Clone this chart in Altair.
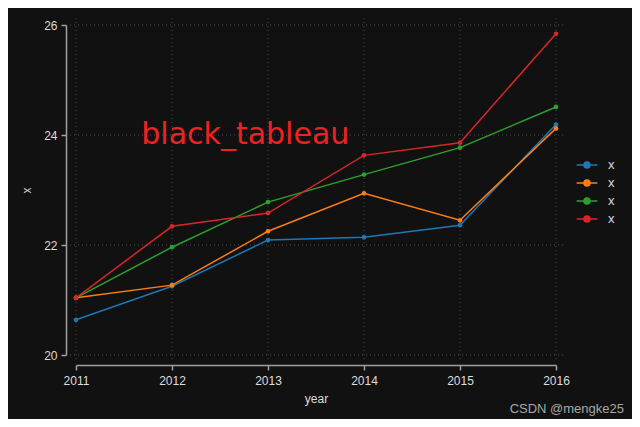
import altair as alt
import pandas as pd

years = [2011, 2012, 2013, 2014, 2015, 2016]
series_names = ["x1", "x2", "x3", "x4"]
s1 = [20.64, 21.25, 22.09, 22.14, 22.36, 24.19]
s2 = [21.04, 21.27, 22.25, 22.94, 22.45, 24.12]
s3 = [21.04, 21.96, 22.78, 23.28, 23.77, 24.51]
s4 = [21.04, 22.34, 22.58, 23.63, 23.86, 25.84]
colors = ["#1f77b4", "#ff7f0e", "#2ca02c", "#d62728"]
y_ticks = [20, 22, 24, 26]
annot_text = ["black_tableau"]
annot_x = [2011.68]
annot_y = [24.0]
watermark = ["CSDN @mengke25"]

rows = []
for name, vals in zip(series_names, [s1, s2, s3, s4]):
    for yr, v in zip(years, vals):
        rows.append({"year": yr, "value": v, "series": name})
df = pd.DataFrame(rows)

W, H = 480, 330
LABEL_FONT = "Liberation Sans"

xscale = alt.Scale(domain=[2011, 2016], nice=False, zero=False)
yscale = alt.Scale(domain=[20, 26], nice=False, zero=False)
xaxis = alt.Axis(values=years, format="d", offset=10, grid=False, labelFlush=False,
                 tickSize=5, labelPadding=5, titlePadding=7)
yaxis = alt.Axis(values=y_ticks, offset=10, grid=False, labelFlush=False,
                 tickSize=5, labelPadding=4, titlePadding=10)

hgrid = alt.Chart(pd.DataFrame({"v": y_ticks})).mark_rule(
    color="#4a4a4a", strokeDash=[1, 3], strokeWidth=1
).encode(
    y=alt.Y("v:Q", scale=yscale, axis=yaxis, title="x"),
    x=alt.value(-6), x2=alt.value(W + 9),
)
vgrid = alt.Chart(pd.DataFrame({"yr": years})).mark_rule(
    color="#4a4a4a", strokeDash=[1, 3], strokeWidth=1
).encode(
    x=alt.X("yr:Q", scale=xscale, axis=xaxis, title="year"),
    y=alt.value(-7), y2=alt.value(H + 5),
)

base = alt.Chart(df).encode(
    x=alt.X("year:Q", scale=xscale, title="year", axis=xaxis),
    y=alt.Y("value:Q", scale=yscale, title="x", axis=yaxis),
    color=alt.Color("series:N",
                    scale=alt.Scale(domain=series_names, range=colors),
                    legend=alt.Legend(
                        title=None, orient="none", legendX=502, legendY=131,
                        labelExpr="'x'",
                        symbolType="M-1.3,0H1.3M-0.38,0A0.38,0.38,0,1,1,0.38,0A0.38,0.38,0,1,1,-0.38,0",
                        symbolSize=256, symbolStrokeWidth=1.5,
                        rowPadding=2, labelOffset=12, padding=0,
                        labelFont=LABEL_FONT, labelFontSize=13, labelColor="#dddddd",
                    )),
)
lines = base.mark_line(strokeWidth=1.5)
points = base.mark_point(filled=True, size=22, opacity=1)

annot = alt.Chart(pd.DataFrame({"t": annot_text, "ax": annot_x, "ay": annot_y})).mark_text(
    align="left", baseline="middle", font="DejaVu Sans", fontSize=30, color="#ee2222"
).encode(
    x=alt.X("ax:Q", scale=xscale, axis=xaxis, title="year"),
    y=alt.Y("ay:Q", scale=yscale, axis=yaxis, title="x"),
    text="t:N",
)

wm = alt.Chart(pd.DataFrame({"t": watermark})).mark_text(
    align="right", baseline="middle", font=LABEL_FONT, fontSize=13, color="#a8a8a8"
).encode(x=alt.value(W + 68), y=alt.value(H + 54), text="t:N")

chart = alt.layer(hgrid, vgrid, lines, points, annot, wm).properties(
    width=W, height=H,
    autosize=alt.AutoSizeParams(type="none"),
    padding={"left": 68, "top": 17, "right": 76, "bottom": 64},
    background="#111111",
).configure_view(stroke=None).configure_axis(
    domainColor="#a0a0a0", tickColor="#a0a0a0", domainWidth=1.5, tickWidth=1.5,
    labelFont=LABEL_FONT, labelFontSize=12, labelColor="#dddddd",
    titleFont=LABEL_FONT, titleFontSize=12, titleColor="#dddddd", titleFontWeight="normal",
)

chart.save("out.html", embed_options={"renderer": "svg", "actions": False})
